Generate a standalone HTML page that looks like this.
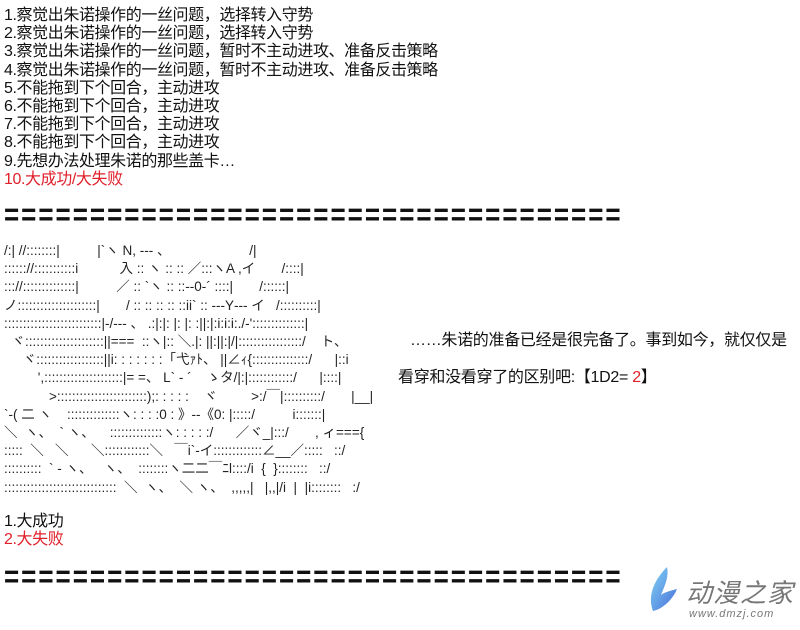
<!DOCTYPE html>
<html><head><meta charset="utf-8"><style>
body{margin:0;width:800px;height:630px;background:#fff;position:relative;overflow:hidden;font-family:"Liberation Sans","Noto Sans CJK SC",sans-serif;color:#111}
.t{position:absolute;left:4px;font-size:16px;line-height:18.2px;white-space:nowrap;letter-spacing:-0.4px}
.r{color:#e0202a}
.sep{position:absolute;left:4px;font:bold 26px/24px "Liberation Sans",sans-serif;letter-spacing:2px;white-space:nowrap;transform:scaleY(1.2)}
.aa{position:absolute;left:4px;top:242px;font-size:13.5px;line-height:18.2px;white-space:pre;font-family:"Liberation Sans","Noto Sans CJK JP",sans-serif;color:#222;letter-spacing:0}
</style></head><body>
<div class="t" style="top:7px">1.察觉出朱诺操作的一丝问题，选择转入守势<br>2.察觉出朱诺操作的一丝问题，选择转入守势<br>3.察觉出朱诺操作的一丝问题，暂时不主动进攻、准备反击策略<br>4.察觉出朱诺操作的一丝问题，暂时不主动进攻、准备反击策略<br>5.不能拖到下个回合，主动进攻<br>6.不能拖到下个回合，主动进攻<br>7.不能拖到下个回合，主动进攻<br>8.不能拖到下个回合，主动进攻<br>9.先想办法处理朱诺的那些盖卡…<br><span class="r">10.大成功/大失败</span></div>
<div class="sep" style="top:202px">====================================</div>
<div class="aa">/:| //::::::::|          |`ヽ N, ‐‐‐ 、                     /|
:::::://:::::::::::i           入 :: ヽ :: :: ／:::ヽA ,イ       /::::|
::://::::::::::::::|          ／ :: `ヽ :: ::‐‐0‐´ ::::|       /::::::|
ノ:::::::::::::::::::::|       / :: :: :: :: ::ii` :: ‐‐‐Y‐‐‐ イ   /::::::::::|
::::::::::::::::::::::::::|‐/‐‐‐ 、 .:|:|: |: |: :||:|:i:i:i:./‐'::::::::::::::|
  ヾ:::::::::::::::::::::||===  ::ヽ|:: ＼.|: ||:||:|/|:::::::::::::::::/    ト、
     ヾ::::::::::::::::::||i: : : : : : :「弋ｧﾄ、 ||∠ｨ{:::::::::::::::/      |::i
         ',:::::::::::::::::::::|= =、 L` ‐ ´    ゝタ/|:|::::::::::::/      |::::|
            >::::::::::::::::::::::::);: : : : :    ヾ         >:/￣|::::::::::/       |__|
`‐( 二 ヽ    ::::::::::::::ヽ: : : :0 : 》‐‐《0: |:::::/          i:::::::|
＼  ヽ、  ` ヽ、    ::::::::::::::ヽ: : : : :/      ／ヾ_|:::/       , ィ==={
:::::  ＼   ＼      ＼::::::::::::＼   ￣i`‐イ:::::::::::::∠__／:::::   ::/
::::::::::  ` ‐ ヽ、   ヽ、  ::::::::ヽ二二￣ﾆl::::/i  {  }::::::::   ::/
::::::::::::::::::::::::::::::  ＼  ヽ、  ＼ ヽ、  ,,,,,|   |,,|/i  |  |i::::::::   :/</div>
<div class="t" style="top:332px;left:410px;letter-spacing:-0.3px">……朱诺的准备已经是很完备了。事到如今，就仅仅是</div>
<div class="t" style="top:369px;left:398px;letter-spacing:-0.3px">看穿和没看穿了的区别吧:【1D2= <span class="r">2</span>】</div>
<div class="t" style="top:513px">1.大成功<br><span class="r">2.大失败</span></div>
<div class="sep" style="top:564px">====================================</div>
<svg style="position:absolute;left:645px;top:565px" width="40" height="50" viewBox="0 0 40 50">
<defs><linearGradient id="g" x1="0" y1="0" x2="1" y2="1"><stop offset="0" stop-color="#7fd3f5"/><stop offset="1" stop-color="#4a6fd8"/></linearGradient></defs>
<path d="M22 2 C10 14 2 30 8 46 C18 44 28 34 32 24 C24 26 18 28 16 30 C20 20 24 12 22 2Z" fill="url(#g)"/>
</svg>
<div style="position:absolute;left:686px;top:578px;font:26px/28px 'Noto Sans CJK SC',sans-serif;color:#777;font-style:italic;letter-spacing:1px">动漫之家</div>
<div style="position:absolute;left:689px;top:608px;font:italic 11px/12px 'Liberation Sans',sans-serif;color:#777;letter-spacing:1px">www.dmzj.com</div>
</body></html>
